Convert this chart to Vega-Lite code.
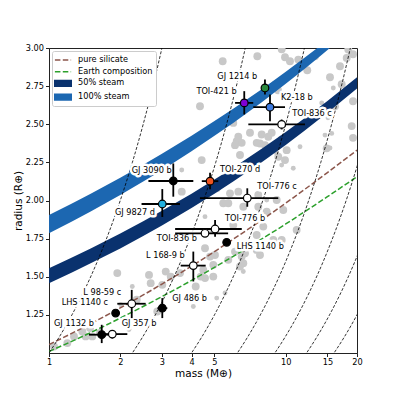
{
"$schema": "https://vega.github.io/schema/vega-lite/v6.json",
"width": 308, "height": 305,
"autosize": {"type": "none"},
"padding": {"left": 49, "top": 48, "right": 40, "bottom": 44},
"config": {
 "font": "DejaVu Sans",
 "view": {"stroke": "#222222", "strokeWidth": 1},
 "axis": {"labelFont": "DejaVu Sans", "titleFont": "DejaVu Sans", "labelFontSize": 8.2, "titleFontSize": 10.5, "titleFontWeight": "normal", "labelColor": "black", "titleColor": "black", "domainColor": "#222222", "tickColor": "#222222", "tickSize": 3.5, "labelPadding": 2, "grid": false, "labelFlush": false, "labelOverlap": false},
 "legend": {"labelFont": "DejaVu Sans", "orient": "top-left", "offset": 3, "padding": 3, "fillColor": "white", "strokeColor": "#cccccc", "cornerRadius": 2,
  "labelFontSize": 8.2, "labelColor": "black", "symbolSize": 100, "rowPadding": 1.7, "labelOffset": 9, "symbolOffset": 2, "symbolStrokeWidth": 1.5, "symbolOpacity": 1}
},
"datasets": {
 "legendItems": [{"name":"pure silicate"},{"name":"Earth composition"},{"name":"50% steam"},{"name":"100% steam"}],
 "grey": [
  {"M":5.416,"R":2.913,"g":"big"},{"M":7.585,"R":2.946,"g":"big"},{"M":9.614,"R":2.991,"g":"big"},{"M":10.42,"R":2.913,"g":"big"},{"M":11.30,"R":2.924,"g":"big"},{"M":9.929,"R":2.939,"g":"big"},{"M":12.33,"R":2.854,"g":"big"},{"M":13.29,"R":2.946,"g":"big"},{"M":16.95,"R":2.880,"g":"big"},{"M":18.09,"R":2.935,"g":"big"},{"M":18.37,"R":2.990,"g":"big"},{"M":19.24,"R":2.959,"g":"big"},
  {"M":9.008,"R":2.760,"g":"big"},{"M":9.275,"R":2.723,"g":"big"},{"M":15.88,"R":2.738,"g":"small"},{"M":17.23,"R":2.762,"g":"big"},{"M":16.15,"R":2.618,"g":"big"},{"M":14.19,"R":2.640,"g":"small"},{"M":19.24,"R":2.651,"g":"big"},{"M":18.99,"R":2.488,"g":"big"},{"M":15.08,"R":2.542,"g":"small"},
  {"M":4.343,"R":2.618,"g":"big"},{"M":6.004,"R":2.509,"g":"big"},{"M":7.063,"R":2.444,"g":"big"},{"M":7.913,"R":2.433,"g":"big"},{"M":8.724,"R":2.444,"g":"big"},{"M":9.614,"R":2.401,"g":"big"},{"M":6.207,"R":2.389,"g":"big"},{"M":6.516,"R":2.378,"g":"big"},{"M":7.540,"R":2.378,"g":"big"},{"M":11.49,"R":2.352,"g":"small"},{"M":14.89,"R":2.342,"g":"big"},{"M":15.38,"R":2.808,"g":"big"},{"M":14.65,"R":2.429,"g":"small"},{"M":19.24,"R":2.411,"g":"big"},
  {"M":6.305,"R":2.418,"g":"big"},{"M":6.106,"R":2.363,"g":"big"},{"M":6.409,"R":2.298,"g":"big"},{"M":8.440,"R":2.418,"g":"big"},{"M":7.785,"R":2.374,"g":"big"},{"M":8.174,"R":2.363,"g":"big"},{"M":9.302,"R":2.374,"g":"big"},{"M":10.09,"R":2.330,"g":"big"},{"M":9.302,"R":2.287,"g":"big"},{"M":9.929,"R":2.265,"g":"big"},{"M":9.158,"R":2.309,"g":"small"},{"M":8.311,"R":2.309,"g":"small"},{"M":10.76,"R":2.211,"g":"small"},{"M":9.614,"R":2.232,"g":"small"},
  {"M":4.416,"R":2.265,"g":"big"},{"M":3.636,"R":2.200,"g":"small"},{"M":3.636,"R":2.058,"g":"big"},{"M":5.110,"R":2.080,"g":"big"},{"M":4.560,"R":2.047,"g":"big"},{"M":5.815,"R":2.047,"g":"big"},{"M":6.305,"R":2.058,"g":"big"},{"M":7.657,"R":2.036,"g":"big"},{"M":8.311,"R":2.003,"g":"small"},{"M":9.158,"R":2.003,"g":"big"},
  {"M":5.448,"R":1.982,"g":"big"},{"M":6.618,"R":1.959,"g":"big"},{"M":7.657,"R":1.959,"g":"big"},{"M":8.311,"R":1.927,"g":"big"},{"M":9.765,"R":1.938,"g":"big"},{"M":7.294,"R":1.894,"g":"big"},{"M":4.560,"R":1.894,"g":"small"},{"M":8.040,"R":1.829,"g":"big"},{"M":11.12,"R":1.807,"g":"big"},{"M":9.614,"R":1.741,"g":"big"},{"M":8.862,"R":1.741,"g":"big"},{"M":8.724,"R":1.698,"g":"big"},{"M":7.540,"R":1.676,"g":"big"},
  {"M":6.106,"R":1.665,"g":"big"},{"M":4.560,"R":1.687,"g":"big"},{"M":5.025,"R":1.643,"g":"big"},{"M":4.786,"R":1.632,"g":"big"},{"M":6.516,"R":1.632,"g":"big"},{"M":6.409,"R":1.567,"g":"big"},{"M":4.943,"R":1.578,"g":"big"},{"M":5.720,"R":1.982,"g":"big"},{"M":7.540,"R":1.774,"g":"big"},{"M":6.004,"R":1.840,"g":"big"},{"M":6.729,"R":1.654,"g":"big"},{"M":7.785,"R":1.643,"g":"big"},{"M":5.720,"R":1.611,"g":"big"},{"M":6.618,"R":1.589,"g":"big"},
  {"M":4.485,"R":1.545,"g":"big"},{"M":4.560,"R":1.491,"g":"big"},{"M":4.943,"R":1.501,"g":"big"},{"M":6.618,"R":1.534,"g":"small"},{"M":5.540,"R":1.393,"g":"small"},{"M":5.110,"R":1.360,"g":"small"},{"M":3.039,"R":1.883,"g":"big"},{"M":4.867,"R":1.796,"g":"small"},{"M":15.38,"R":2.344,"g":"small"},{"M":15.64,"R":2.440,"g":"small"},
  {"M":1.943,"R":1.524,"g":"big"},{"M":2.645,"R":1.512,"g":"big"},{"M":3.112,"R":1.534,"g":"big"},{"M":3.267,"R":1.501,"g":"big"},{"M":4.373,"R":1.501,"g":"big"},{"M":2.248,"R":1.436,"g":"small"},{"M":2.689,"R":1.458,"g":"big"},{"M":3.010,"R":1.447,"g":"big"},{"M":4.166,"R":1.436,"g":"big"},{"M":2.347,"R":1.349,"g":"big"},{"M":2.009,"R":1.316,"g":"small"},{"M":2.867,"R":1.272,"g":"big"},{"M":4.070,"R":1.305,"g":"small"},
  {"M":1.383,"R":1.141,"g":"big"},{"M":1.429,"R":1.109,"g":"big"},{"M":1.523,"R":1.109,"g":"big"},{"M":1.275,"R":1.109,"g":"big"},{"M":1.195,"R":1.065,"g":"big"},{"M":1.050,"R":1.043,"g":"big"},{"M":1.642,"R":1.131,"g":"big"},{"M":1.490,"R":1.164,"g":"big"},{"M":3.576,"R":1.524,"g":"big"},{"M":2.177,"R":1.154,"g":"small"}
 ],
 "bands": [
  {"name":"100% steam","M":1,"lo":1.785,"up":1.905},{"name":"100% steam","M":1.25,"lo":1.862,"up":1.980},{"name":"100% steam","M":1.5,"lo":1.928,"up":2.044},{"name":"100% steam","M":2,"lo":2.036,"up":2.149},{"name":"100% steam","M":2.5,"lo":2.125,"up":2.234},{"name":"100% steam","M":3,"lo":2.199,"up":2.306},{"name":"100% steam","M":4,"lo":2.323,"up":2.425},{"name":"100% steam","M":5,"lo":2.424,"up":2.521},{"name":"100% steam","M":6,"lo":2.509,"up":2.602},{"name":"100% steam","M":8,"lo":2.650,"up":2.735},{"name":"100% steam","M":10,"lo":2.765,"up":2.844},{"name":"100% steam","M":12,"lo":2.862,"up":2.936},{"name":"100% steam","M":14,"lo":2.947,"up":3.015},{"name":"100% steam","M":16,"lo":3.023,"up":3.086},
  {"name":"50% steam","M":1,"lo":1.458,"up":1.556},{"name":"50% steam","M":1.25,"lo":1.528,"up":1.626},{"name":"50% steam","M":1.5,"lo":1.588,"up":1.685},{"name":"50% steam","M":2,"lo":1.686,"up":1.784},{"name":"50% steam","M":2.5,"lo":1.767,"up":1.864},{"name":"50% steam","M":3,"lo":1.836,"up":1.932},{"name":"50% steam","M":4,"lo":1.951,"up":2.045},{"name":"50% steam","M":5,"lo":2.044,"up":2.137},{"name":"50% steam","M":6,"lo":2.124,"up":2.215},{"name":"50% steam","M":8,"lo":2.256,"up":2.344},{"name":"50% steam","M":10,"lo":2.364,"up":2.449},{"name":"50% steam","M":12,"lo":2.457,"up":2.539},{"name":"50% steam","M":15,"lo":2.575,"up":2.653},{"name":"50% steam","M":20,"lo":2.735,"up":2.808}
 ],
 "comp": [
  {"name":"pure silicate","M":1,"R":1.055},{"name":"pure silicate","M":1.5,"R":1.192},{"name":"pure silicate","M":2,"R":1.296},{"name":"pure silicate","M":3,"R":1.452},{"name":"pure silicate","M":4,"R":1.570},{"name":"pure silicate","M":5,"R":1.665},{"name":"pure silicate","M":6,"R":1.746},{"name":"pure silicate","M":8,"R":1.877},{"name":"pure silicate","M":10,"R":1.983},{"name":"pure silicate","M":12,"R":2.072},{"name":"pure silicate","M":15,"R":2.183},{"name":"pure silicate","M":20,"R":2.330},
  {"name":"Earth composition","M":1,"R":1.010},{"name":"Earth composition","M":1.5,"R":1.134},{"name":"Earth composition","M":2,"R":1.229},{"name":"Earth composition","M":3,"R":1.370},{"name":"Earth composition","M":4,"R":1.476},{"name":"Earth composition","M":5,"R":1.562},{"name":"Earth composition","M":6,"R":1.634},{"name":"Earth composition","M":8,"R":1.752},{"name":"Earth composition","M":10,"R":1.846},{"name":"Earth composition","M":12,"R":1.926},{"name":"Earth composition","M":15,"R":2.025},{"name":"Earth composition","M":20,"R":2.156}
 ],
 "iso": [
  {"v":"1.0","M":0.98,"R":0.98},{"v":"1.0","M":1.1,"R":1.1},{"v":"1.0","M":1.25,"R":1.25},{"v":"1.0","M":1.4,"R":1.4},{"v":"1.0","M":1.6,"R":1.6},{"v":"1.0","M":1.8,"R":1.8},{"v":"1.0","M":2.0,"R":2.0},{"v":"1.0","M":2.25,"R":2.25},{"v":"1.0","M":2.5,"R":2.5},{"v":"1.0","M":2.75,"R":2.75},{"v":"1.0","M":3.02,"R":3.02},
  {"v":"1.5","M":2.205,"R":0.98},{"v":"1.5","M":2.475,"R":1.1},{"v":"1.5","M":2.8125,"R":1.25},{"v":"1.5","M":3.15,"R":1.4},{"v":"1.5","M":3.6,"R":1.6},{"v":"1.5","M":4.05,"R":1.8},{"v":"1.5","M":4.5,"R":2.0},{"v":"1.5","M":5.0625,"R":2.25},{"v":"1.5","M":5.625,"R":2.5},{"v":"1.5","M":6.1875,"R":2.75},{"v":"1.5","M":6.795,"R":3.02},
  {"v":"2.0","M":3.92,"R":0.98},{"v":"2.0","M":4.4,"R":1.1},{"v":"2.0","M":5.0,"R":1.25},{"v":"2.0","M":5.6,"R":1.4},{"v":"2.0","M":6.4,"R":1.6},{"v":"2.0","M":7.2,"R":1.8},{"v":"2.0","M":8.0,"R":2.0},{"v":"2.0","M":9.0,"R":2.25},{"v":"2.0","M":10.0,"R":2.5},{"v":"2.0","M":11.0,"R":2.75},{"v":"2.0","M":12.08,"R":3.02},
  {"v":"2.5","M":6.125,"R":0.98},{"v":"2.5","M":6.875,"R":1.1},{"v":"2.5","M":7.8125,"R":1.25},{"v":"2.5","M":8.75,"R":1.4},{"v":"2.5","M":10.0,"R":1.6},{"v":"2.5","M":11.25,"R":1.8},{"v":"2.5","M":12.5,"R":2.0},{"v":"2.5","M":14.0625,"R":2.25},{"v":"2.5","M":15.625,"R":2.5},{"v":"2.5","M":17.1875,"R":2.75},{"v":"2.5","M":18.875,"R":3.02},
  {"v":"3.0","M":8.82,"R":0.98},{"v":"3.0","M":9.9,"R":1.1},{"v":"3.0","M":11.25,"R":1.25},{"v":"3.0","M":12.6,"R":1.4},{"v":"3.0","M":14.4,"R":1.6},{"v":"3.0","M":16.2,"R":1.8},{"v":"3.0","M":18.0,"R":2.0},{"v":"3.0","M":20.25,"R":2.25},{"v":"3.0","M":22.5,"R":2.5},
  {"v":"3.5","M":12.005,"R":0.98},{"v":"3.5","M":13.475,"R":1.1},{"v":"3.5","M":15.3125,"R":1.25},{"v":"3.5","M":17.15,"R":1.4},{"v":"3.5","M":19.6,"R":1.6},{"v":"3.5","M":22.05,"R":1.8},
  {"v":"4.0","M":15.68,"R":0.98},{"v":"4.0","M":17.6,"R":1.1},{"v":"4.0","M":20.0,"R":1.25},{"v":"4.0","M":22.4,"R":1.4}
 ],
 "planets": [
  {"name":"GJ 1214 b","M":8.17,"R":2.738,"Mlo":7.91,"Mhi":8.44,"Rlo":2.695,"Rhi":2.793,"lM":5.14,"lR":2.808},
  {"name":"TOI-421 b","M":6.68,"R":2.640,"Mlo":6.11,"Mhi":7.29,"Rlo":2.564,"Rhi":2.717,"lM":4.195,"lR":2.710},
  {"name":"K2-18 b","M":8.58,"R":2.612,"Mlo":7.29,"Mhi":9.93,"Rlo":2.520,"Rhi":2.695,"lM":9.55,"lR":2.673},
  {"name":"TOI-836 c","M":9.61,"R":2.499,"Mlo":6.95,"Mhi":12.06,"Rlo":2.466,"Rhi":2.531,"lM":10.66,"lR":2.568},
  {"name":"GJ 3090 b","M":3.35,"R":2.128,"Mlo":2.63,"Mhi":4.07,"Rlo":2.025,"Rhi":2.243,"lM":2.236,"lR":2.193},
  {"name":"TOI-270 d","M":4.79,"R":2.127,"Mlo":4.42,"Mhi":5.19,"Rlo":2.073,"Rhi":2.182,"lM":5.276,"lR":2.200},
  {"name":"TOI-776 c","M":6.88,"R":2.016,"Mlo":4.34,"Mhi":9.30,"Rlo":1.959,"Rhi":2.080,"lM":7.585,"lR":2.086},
  {"name":"GJ 9827 d","M":3.01,"R":1.977,"Mlo":2.46,"Mhi":3.575,"Rlo":1.892,"Rhi":2.075,"lM":1.900,"lR":1.920},
  {"name":"TOI-776 b","M":5.03,"R":1.813,"Mlo":3.41,"Mhi":6.52,"Rlo":1.763,"Rhi":1.872,"lM":5.54,"lR":1.879},
  {"name":"TOI-836 b","M":4.56,"R":1.785,"Mlo":3.41,"Mhi":5.71,"Rlo":1.76,"Rhi":1.81,"lM":2.851,"lR":1.746},
  {"name":"L 168-9 b","M":4.07,"R":1.573,"Mlo":3.60,"Mhi":4.59,"Rlo":1.469,"Rhi":1.665,"lM":2.569,"lR":1.637},
  {"name":"LHS 1140 b","M":5.63,"R":1.726,"Mlo":5.45,"Mhi":5.81,"Rlo":1.71,"Rhi":1.74,"lM":6.207,"lR":1.694},
  {"name":"GJ 486 b","M":3.01,"R":1.294,"Mlo":2.87,"Mhi":3.16,"Rlo":1.229,"Rhi":1.360,"lM":3.317,"lR":1.355},
  {"name":"L 98-59 c","M":2.236,"R":1.323,"Mlo":1.943,"Mhi":2.561,"Rlo":1.229,"Rhi":1.414,"lM":1.396,"lR":1.393},
  {"name":"LHS 1140 c","M":1.912,"R":1.262,"Mlo":1.85,"Mhi":1.97,"Rlo":1.245,"Rhi":1.28,"lM":1.131,"lR":1.331},
  {"name":"GJ 1132 b","M":1.670,"R":1.120,"Mlo":1.475,"Mhi":1.882,"Rlo":1.065,"Rhi":1.185,"lM":1.050,"lR":1.190},
  {"name":"GJ 357 b","M":1.851,"R":1.124,"Mlo":1.680,"Mhi":2.142,"Rlo":1.095,"Rhi":1.15,"lM":2.028,"lR":1.190}
 ]
},
"layer": [
 {"data": {"name": "grey"},
  "mark": {"type": "point", "filled": true, "color": "#c8c8c8", "opacity": 1, "clip": true},
  "encoding": {
   "x": {"field": "M", "type": "quantitative", "scale": {"type": "log", "domain": [1, 20], "nice": false},
    "axis": {"values": [1,2,3,4,5,10,15,20], "format": "d", "title": "mass (M⊕)", "titlePadding": 2.5}},
   "y": {"field": "R", "type": "quantitative", "scale": {"domain": [1.0, 3.0], "nice": false, "zero": false},
    "axis": {"values": [1.25,1.5,1.75,2.0,2.25,2.5,2.75,3.0], "format": ".2f", "title": "radius (R⊕)", "titlePadding": 2}},
   "size": {"field": "g", "type": "ordinal", "scale": {"domain": ["big","small"], "range": [62, 24]}, "legend": null}
  }},
 {"data": {"name": "bands"},
  "transform": [{"filter": "datum.name == '100% steam'"}],
  "mark": {"type": "area", "clip": true, "opacity": 1, "color": "#1c67b1"},
  "encoding": {
   "x": {"field": "M", "type": "quantitative"},
   "y": {"field": "lo", "type": "quantitative", "stack": null},
   "y2": {"field": "up"}
  }},
 {"data": {"name": "bands"},
  "transform": [{"filter": "datum.name == '50% steam'"}],
  "mark": {"type": "area", "clip": true, "opacity": 1, "color": "#0a326e"},
  "encoding": {
   "x": {"field": "M", "type": "quantitative"},
   "y": {"field": "lo", "type": "quantitative", "stack": null},
   "y2": {"field": "up"}
  }},
 {"data": {"name": "comp"},
  "transform": [{"filter": "datum.name == 'pure silicate'"}],
  "mark": {"type": "line", "clip": true, "strokeWidth": 1.5, "strokeDash": [5.5, 2.4], "interpolate": "monotone", "color": "#8c564b"},
  "encoding": {
   "x": {"field": "M", "type": "quantitative"},
   "y": {"field": "R", "type": "quantitative"}
  }},
 {"data": {"name": "comp"},
  "transform": [{"filter": "datum.name == 'Earth composition'"}],
  "mark": {"type": "line", "clip": true, "strokeWidth": 1.5, "strokeDash": [5.5, 2.4], "interpolate": "monotone", "color": "#2ca02c"},
  "encoding": {
   "x": {"field": "M", "type": "quantitative"},
   "y": {"field": "R", "type": "quantitative"}
  }},
 {"data": {"name": "iso"},
  "mark": {"type": "line", "clip": true, "strokeWidth": 0.8, "strokeDash": [3, 1.7], "color": "black", "interpolate": "monotone"},
  "encoding": {
   "x": {"field": "M", "type": "quantitative"},
   "y": {"field": "R", "type": "quantitative"},
   "detail": {"field": "v", "type": "nominal"},
   "order": {"field": "R", "type": "quantitative"}
  }},
 {"data": {"name": "planets"},
  "mark": {"type": "text", "align": "left", "baseline": "middle", "fontSize": 8.2, "font": "DejaVu Sans", "stroke": "white", "strokeWidth": 5, "strokeJoin": "round", "fill": "white"},
  "encoding": {
   "x": {"field": "lM", "type": "quantitative"},
   "y": {"field": "lR", "type": "quantitative"},
   "text": {"field": "name"}
  }},
 {"data": {"name": "planets"},
  "mark": {"type": "rule", "color": "black", "strokeWidth": 1.8},
  "encoding": {
   "x": {"field": "Mlo", "type": "quantitative"},
   "x2": {"field": "Mhi"},
   "y": {"field": "R", "type": "quantitative"}
  }},
 {"data": {"name": "planets"},
  "mark": {"type": "rule", "color": "black", "strokeWidth": 1.8},
  "encoding": {
   "x": {"field": "M", "type": "quantitative"},
   "y": {"field": "Rlo", "type": "quantitative"},
   "y2": {"field": "Rhi"}
  }},
 {"data": {"name": "planets"},
  "mark": {"type": "point", "filled": true, "size": 58, "stroke": "black", "strokeWidth": 1.2, "opacity": 1},
  "encoding": {
   "x": {"field": "M", "type": "quantitative"},
   "y": {"field": "R", "type": "quantitative"},
   "fill": {"field": "name", "type": "nominal", "legend": null,
    "scale": {"domain": ["GJ 1214 b","TOI-421 b","K2-18 b","TOI-836 c","GJ 3090 b","TOI-270 d","TOI-776 c","GJ 9827 d","TOI-776 b","TOI-836 b","L 168-9 b","LHS 1140 b","GJ 486 b","L 98-59 c","LHS 1140 c","GJ 1132 b","GJ 357 b"],
     "range": ["#2a8a3e","#7f00d4","#3d7be0","white","black","#ee5522","white","#22b0e0","white","white","white","black","black","white","black","black","white"]}}
  }},
 {"data": {"name": "planets"},
  "mark": {"type": "text", "align": "left", "baseline": "middle", "fontSize": 8.2, "font": "DejaVu Sans", "color": "black"},
  "encoding": {
   "x": {"field": "lM", "type": "quantitative"},
   "y": {"field": "lR", "type": "quantitative"},
   "text": {"field": "name"}
  }},
 {"data": {"name": "legendItems"},
  "mark": {"type": "point", "filled": true, "opacity": 0, "strokeWidth": 1.5},
  "encoding": {
   "color": {"field": "name", "type": "nominal", "legend": {"title": null},
    "scale": {"domain": ["pure silicate","Earth composition","50% steam","100% steam"], "range": ["#8c564b","#2ca02c","#0a326e","#1c67b1"]}},
   "stroke": {"field": "name", "type": "nominal", "legend": {"title": null},
    "scale": {"domain": ["pure silicate","Earth composition","50% steam","100% steam"], "range": ["#8c564b","#2ca02c","#0a326e","#1c67b1"]}},
   "shape": {"field": "name", "type": "nominal", "legend": {"title": null},
    "scale": {"domain": ["pure silicate","Earth composition","50% steam","100% steam"], "range": ["M-1.62,0H1.62","M-1.62,0H1.62","M-1.65,-0.57H1.65V0.57H-1.65Z","M-1.65,-0.57H1.65V0.57H-1.65Z"]}},
   "strokeDash": {"field": "name", "type": "nominal", "legend": {"title": null},
    "scale": {"domain": ["pure silicate","Earth composition","50% steam","100% steam"], "range": [[5.5,2.4],[5.5,2.4],[1,0],[1,0]]}}
  }}
]
}
